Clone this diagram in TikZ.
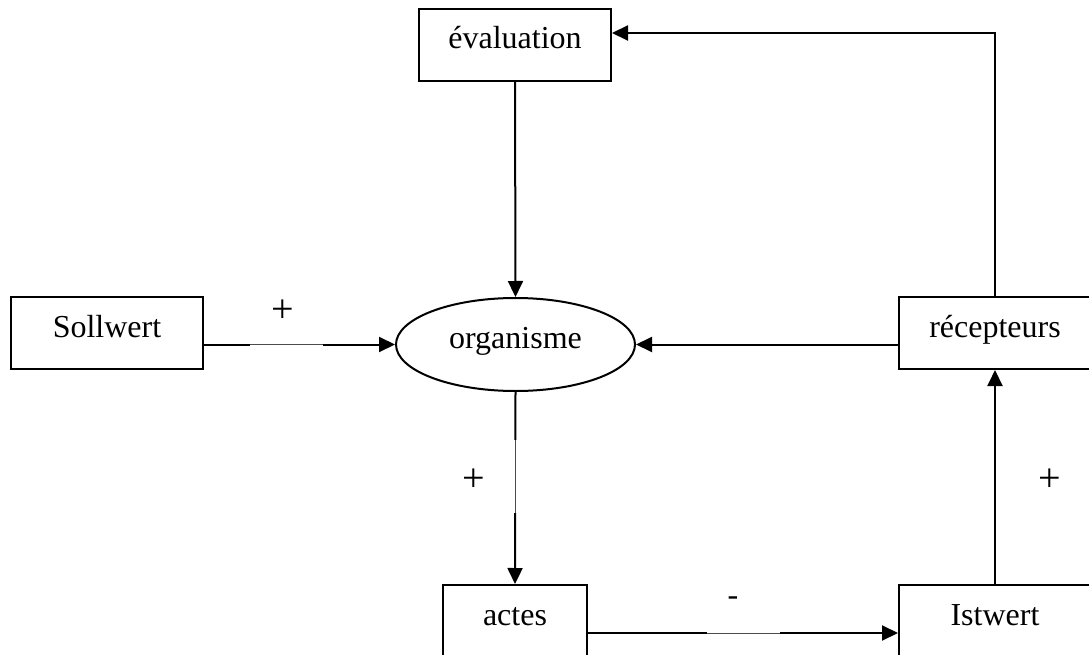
\documentclass[tikz,border=0pt]{standalone}
\usepackage{fontspec}
\setmainfont{Liberation Serif}
\usetikzlibrary{arrows.meta,shapes.geometric}
\begin{document}
\begin{tikzpicture}[x=1pt,y=-1pt,
  font=\fontsize{32}{38}\selectfont,
  boxnode/.style={draw, line width=2pt, rectangle, minimum height=72pt, inner sep=0pt,
                  text height=20pt, text depth=12pt},
  arr/.style={line width=2pt, -{Triangle[length=16pt,width=15pt]}},
  thinseg/.style={draw=white, line width=3pt},
  thinline/.style={draw=black!70, line width=0.9pt},
  lbl/.style={inner sep=0pt, font=\fontsize{40}{44}\selectfont}]
\clip (0,0) rectangle (1089,655);
\useasboundingbox (0,0) rectangle (1089,655);
\fill[white] (0,0) rectangle (1089,655);

\node[boxnode, minimum width=192pt] (eval) at (515,45) {évaluation};
\node[boxnode, minimum width=192pt] (soll) at (107,333) {Sollwert};
\node[draw, line width=2pt, ellipse, minimum width=239pt, minimum height=93pt, inner sep=0pt,
      text height=20pt, text depth=13pt] (org) at (515.5,344.5) {organisme};
\node[boxnode, minimum width=192pt] (rec) at (995,333) {récepteurs};
\node[boxnode, minimum width=144pt] (actes) at (515,621) {actes};
\node[boxnode, minimum width=192pt] (ist) at (995,621) {Istwert};

% connectors
\draw[arr] (eval.south) -- (org.north);
\draw[arr] (soll.east |- org.west) -- (org.west);
\draw[arr] (rec.west |- org.east) -- (org.east);
\draw[arr] (rec.north) |- ([yshift=12pt]eval.east);
\draw[arr] (ist.north) -- (rec.south);
\draw[arr] (org.south) -- (actes.north);
\draw[arr] ([yshift=-12pt]actes.east) -- ([yshift=-12pt]ist.west);

% thin segments
\coordinate (s1) at (250,344.5);
\coordinate (s2) at (323,344.5);
\draw[thinseg] (s1) -- (s2);
\draw[thinline] (s1) -- (s2);
\coordinate (v1) at (515.5,440);
\coordinate (v2) at (515.5,513);
\draw[thinseg] (v1) -- (v2);
\draw[thinline] (v1) -- (v2);
\coordinate (h1) at (707,633);
\coordinate (h2) at (780,633);
\draw[thinseg] (h1) -- (h2);
\draw[thinline] (h1) -- (h2);

% labels
\node[lbl] (p1) at (283,311) {+};
\node[lbl] (p2) at (474,480) {+};
\node[lbl] (p3) at (1050,480) {+};
\node[inner sep=0pt] (m1) at (733,601) {-};
\end{tikzpicture}
\end{document}
